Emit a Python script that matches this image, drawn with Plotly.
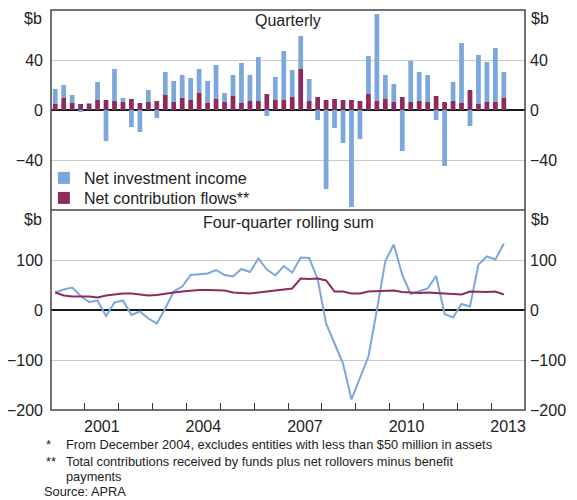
import plotly.graph_objects as go

# ---------------- data ----------------
quarters = [f"{y}-Q{q}" for y in range(2000, 2014) for q in range(1, 5)][:54]

net_investment_income = [
    12, 10.4, 6.4, -1.6, 0.3, 14.4, -24.8, 25.6, 3.2, -13.6,
    -17.6, 9.6, -6.4, 18.4, 16.8, 18.4, 17.6, 19.2, 17.6, 27.2,
    7.2, 16.8, 32, 20.8, 35.2, -4.8, 18.4, 39.2, 21.6, 26.4,
    17.6, -8, -63.2, -14.4, -26.4, -77.6, -23.2, 30.4, 69.6, 19.2,
    14.4, -32.8, 32.8, 23.2, 21.6, -8, -44.8, 15.2, 48, -12.8,
    39.2, 32, 43.2, 20.8]

net_contribution_flows = [
    4.8, 9.6, 5.6, 4.8, 4.8, 8, 8, 7.2, 6.4, 8.8,
    5.6, 6.4, 7.2, 12, 6.4, 9.6, 8, 13.6, 5.6, 8.8,
    6.4, 11.2, 5.6, 7.2, 7.2, 12.8, 8, 8, 10.4, 32.8,
    7.2, 10.4, 8, 8.8, 8, 8, 7.2, 12.8, 7.2, 8.8,
    6.4, 10.4, 6.4, 7.2, 6.4, 11.2, 6.4, 7.2, 5.6, 16,
    4.8, 6.4, 6.4, 9.6]

rolling_investment = [
    35, 41, 45, 28, 16, 19, -12, 15, 19, -10,
    -3, -17, -27, 3, 37, 47, 70, 71, 73, 80,
    70, 67, 82, 76, 103, 81, 69, 88, 75, 105,
    104, 62, -27, -67, -107, -179, -135, -93, 0, 98,
    131, 70, 32, 37, 43, 68, -8, -15, 12, 7,
    91, 107, 101, 133]

rolling_contribution = [
    35, 29, 27, 27, 27, 25, 29, 31, 33, 33,
    31, 29, 30, 33, 35, 37, 39, 40, 40, 40,
    39, 35, 34, 33, 35, 37, 39, 40, 43, 63,
    62, 63, 59, 37, 37, 33, 33, 37, 38, 39,
    39, 36, 35, 34, 35, 34, 33, 32, 31, 37,
    36, 36, 37, 31]

year_labels = ["2001", "2004", "2007", "2010", "2013"]
top_ticks = [-40, 0, 40]
bottom_ticks = [-200, -100, 0, 100]

# quarter label -> decimal-year midpoint
def qpos(label):
    y, q = label.split("-Q")
    return int(y) + (int(q) - 0.5) / 4

x = [qpos(q) for q in quarters]

BLUE = "#7ba7db"
MAROON = "#8e2a5c"
FONT = "Liberation Sans, Arial, sans-serif"
TXT = "#222222"

fig = go.Figure()
fig.add_trace(go.Bar(x=x, y=net_contribution_flows, name="Net contribution flows**",
                     marker=dict(color=MAROON, line=dict(width=0)), width=0.14,
                     xaxis="x", yaxis="y", legend="legend2"))
fig.add_trace(go.Bar(x=x, y=net_investment_income, name="Net investment income",
                     marker=dict(color=BLUE, line=dict(width=0)), width=0.14,
                     xaxis="x", yaxis="y", legend="legend"))
fig.add_trace(go.Scatter(x=x, y=rolling_investment, mode="lines", showlegend=False,
                         line=dict(color=BLUE, width=2), xaxis="x2", yaxis="y2"))
fig.add_trace(go.Scatter(x=x, y=rolling_contribution, mode="lines", showlegend=False,
                         line=dict(color=MAROON, width=2), xaxis="x2", yaxis="y2"))
# transparent carriers so the right-hand axes are drawn
fig.add_trace(go.Scatter(x=x, y=net_contribution_flows, mode="lines", showlegend=False,
                         opacity=0, hoverinfo="skip", xaxis="x", yaxis="y3"))
fig.add_trace(go.Scatter(x=x, y=rolling_contribution, mode="lines", showlegend=False,
                         opacity=0, hoverinfo="skip", xaxis="x2", yaxis="y4"))

tickfont = dict(family=FONT, size=16, color=TXT)
yax_common = dict(showline=False, ticks="", gridcolor="#c9c9c9", gridwidth=1,
                  zeroline=True, zerolinecolor="#1a1a1a", zerolinewidth=1.5,
                  tickfont=tickfont, fixedrange=True, ticklabelstandoff=7)
yax_right = dict(showgrid=False, zeroline=False, showline=False, ticks="",
                 ticklabelstandoff=4, tickfont=tickfont, side="right", fixedrange=True)


def py(Y):  # screen pixel row -> paper y (plot area spans rows 10..410)
    return (410 - Y) / 400


legend_style = dict(xanchor="left", yanchor="middle", bgcolor="rgba(255,255,255,0)",
                    font=dict(family=FONT, size=16, color=TXT), itemwidth=30)

# the page body adds an 8px offset; size and margins compensate for it
fig.update_layout(
    width=569, height=492,
    margin=dict(l=43, r=52, t=2, b=90, autoexpand=False),
    paper_bgcolor="white", plot_bgcolor="white",
    barmode="relative",
    font=dict(family=FONT, size=16, color=TXT),
    xaxis=dict(domain=[0, 1], anchor="y", range=[2000, 2014], showticklabels=False,
               ticks="", showgrid=False, zeroline=False, showline=False, fixedrange=True),
    xaxis2=dict(domain=[0, 1], anchor="y2", range=[2000, 2014],
                tickvals=[int(v) + 0.5 for v in year_labels], ticktext=year_labels,
                ticks="", showgrid=False, zeroline=False, showline=False,
                ticklabelstandoff=5, tickfont=tickfont, fixedrange=True,
                minor=dict(tickvals=list(range(2001, 2014)), ticks="inside",
                           ticklen=7, tickcolor="#333333", tickwidth=1.2, showgrid=False)),
    yaxis=dict(domain=[0.5, 1], anchor="x", range=[-80, 80], tickvals=top_ticks, **yax_common),
    yaxis2=dict(domain=[0, 0.5], anchor="x2", range=[-200, 200], tickvals=bottom_ticks,
                **yax_common),
    yaxis3=dict(overlaying="y", anchor="x", range=[-80, 80], tickvals=top_ticks, **yax_right),
    yaxis4=dict(overlaying="y2", anchor="x2", range=[-200, 200], tickvals=bottom_ticks,
                **yax_right),
    legend=dict(x=-0.015, y=py(178), **legend_style),
    legend2=dict(x=-0.015, y=py(198), **legend_style),
    showlegend=True,
)

# frame and panel separator
fig.add_shape(type="rect", xref="paper", yref="paper", x0=0, x1=1, y0=0, y1=1,
              line=dict(color="#444444", width=1.5))
fig.add_shape(type="line", xref="paper", yref="paper", x0=0, x1=1, y0=0.5, y1=0.5,
              line=dict(color="#444444", width=1.5))

ann = []
def add_text(text, x, y, xanchor="center", size=16, yanchor="middle"):
    ann.append(dict(text=text, x=x, y=y, xref="paper", yref="paper", showarrow=False,
                    xanchor=xanchor, yanchor=yanchor, borderpad=0,
                    font=dict(family=FONT, size=size, color=TXT)))

add_text("Quarterly", 0.5, py(20))
add_text("Four-quarter rolling sum", 0.5, py(222))
add_text("$b", -0.017, py(19), xanchor="right")
add_text("$b", 1.011, py(19), xanchor="left")
add_text("$b", -0.017, py(219), xanchor="right")
add_text("$b", 1.011, py(219), xanchor="left")

fx = lambda X: (X - 51) / 474
FN = 12.8
add_text("*", fx(45), py(445), xanchor="left", size=FN)
add_text("From December 2004, excludes entities with less than $50 million in assets",
         fx(65), py(445), xanchor="left", size=FN)
add_text("**", fx(45), py(461), xanchor="left", size=FN)
add_text("Total contributions received by funds plus net rollovers minus benefit",
         fx(65), py(461), xanchor="left", size=FN)
add_text("payments", fx(65), py(476), xanchor="left", size=FN)
add_text("Source: APRA", fx(43), py(491), xanchor="left", size=FN)

fig.update_layout(annotations=ann)
fig.write_html("out.html")
